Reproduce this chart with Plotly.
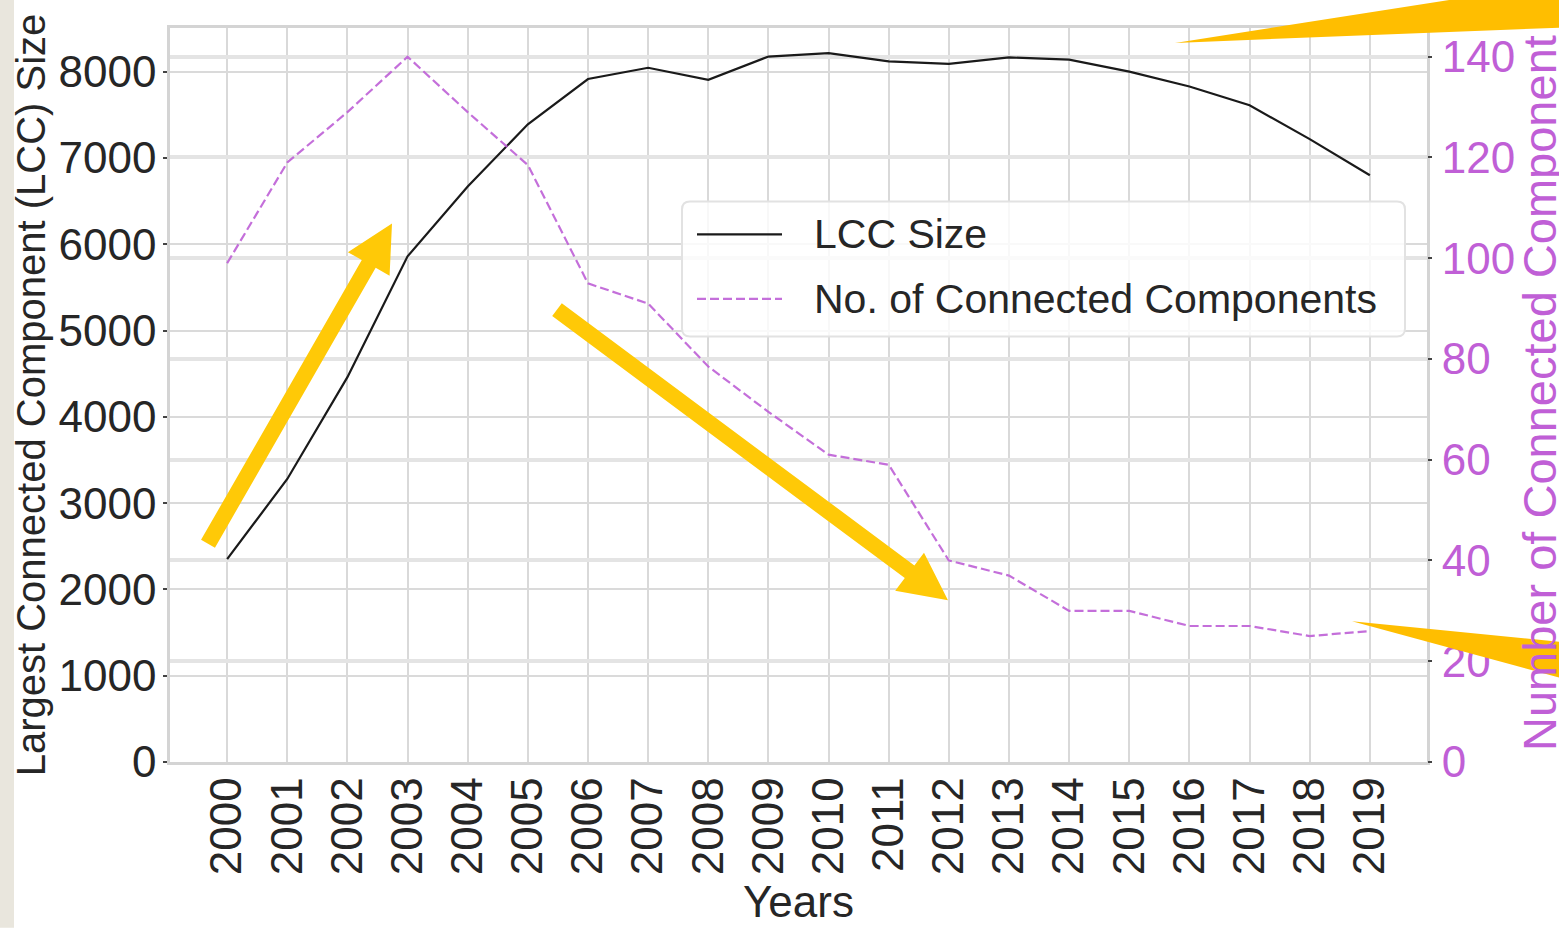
import math
import plotly.graph_objects as go

# ---------------- data ----------------
years = list(range(2000, 2020))
lcc_size = [2350, 3280, 4460, 5860, 6670, 7390, 7915, 8045, 7905, 8175,
            8215, 8120, 8090, 8165, 8140, 8000, 7828, 7610, 7218, 6800]
num_components = [99, 119, 129, 140, 129, 118.5, 95, 91, 78.5, 69.5,
                  61, 59, 40, 37, 30, 30, 27, 27, 25, 26]
x_tick_labels = [str(y) for y in years]
left_ticks = [0, 1000, 2000, 3000, 4000, 5000, 6000, 7000, 8000]
right_ticks = [0, 20, 40, 60, 80, 100, 120, 140]

legend_labels = ["LCC Size", "No. of Connected Components"]

# ---------------- styles ----------------
W_PX, H_PX = 1559, 930
ML, MR, MT, MB = 170, 132, 28, 162
PW, PH = W_PX - ML - MR, H_PX - MT - MB
FONT = "Liberation Sans, Arial, sans-serif"
TXT = "#262626"
PURPLE = "#c05fd6"
DASH_PURPLE = "rgba(190,95,214,0.9)"
YEL = "#FFC907"
YEL2 = "#FFBE00"


def px(x):
    return (x - ML) / PW


def py(y):
    return (MT + PH - y) / PH


def poly(points):
    return "M " + " L ".join(f"{px(x):.5f},{py(y):.5f}" for x, y in points) + " Z"


def arrow(tail, tip, sw, hl, hw):
    dx, dy = tip[0] - tail[0], tip[1] - tail[1]
    ln = math.hypot(dx, dy)
    ux, uy = dx / ln, dy / ln
    nx, ny = -uy, ux
    bx, by = tip[0] - ux * hl, tip[1] - uy * hl
    pts = [
        (tail[0] + nx * sw / 2, tail[1] + ny * sw / 2),
        (bx + nx * sw / 2, by + ny * sw / 2),
        (bx + nx * hw, by + ny * hw),
        tip,
        (bx - nx * hw, by - ny * hw),
        (bx - nx * sw / 2, by - ny * sw / 2),
        (tail[0] - nx * sw / 2, tail[1] - ny * sw / 2),
    ]
    return poly(pts)


def rounded_rect(x0, y0, x1, y1, r):
    rx, ry = r / PW, r / PH
    X0, X1, Y0, Y1 = px(x0), px(x1), py(y0), py(y1)  # Y0 top, Y1 bottom
    return (f"M {X0+rx},{Y0} L {X1-rx},{Y0} Q {X1},{Y0} {X1},{Y0-ry} "
            f"L {X1},{Y1+ry} Q {X1},{Y1} {X1-rx},{Y1} "
            f"L {X0+rx},{Y1} Q {X0},{Y1} {X0},{Y1+ry} "
            f"L {X0},{Y0-ry} Q {X0},{Y0} {X0+rx},{Y0} Z")


fig = go.Figure()
fig.add_trace(go.Scatter(x=years, y=lcc_size, mode="lines", name=legend_labels[0],
                         line=dict(color="#1a1a1a", width=2.2), yaxis="y",
                         showlegend=False))
fig.add_trace(go.Scatter(x=years, y=num_components, mode="lines", name=legend_labels[1],
                         line=dict(color=DASH_PURPLE, width=2.2, dash="9px,4px"),
                         yaxis="y2", showlegend=False))

shapes = []
# left texture strip
shapes.append(dict(type="rect", xref="paper", yref="paper", x0=px(-5), x1=px(14),
                   y0=py(935), y1=py(-5), fillcolor="#e9e6dd", line=dict(width=0),
                   layer="below"))
# legend box
shapes.append(dict(type="path", xref="paper", yref="paper",
                   path=rounded_rect(682, 203, 1405, 339, 8),
                   fillcolor="rgba(255,255,255,0.82)",
                   line=dict(color="#e2e2e2", width=2), layer="above"))
shapes.append(dict(type="line", xref="paper", yref="paper", x0=px(697), x1=px(782),
                   y0=py(236), y1=py(236), line=dict(color="#1a1a1a", width=2.2),
                   layer="above"))
shapes.append(dict(type="line", xref="paper", yref="paper", x0=px(697), x1=px(782),
                   y0=py(301), y1=py(301),
                   line=dict(color=DASH_PURPLE, width=2.2, dash="9px,4px"),
                   layer="above"))
# yellow arrows
shapes.append(dict(type="path", xref="paper", yref="paper",
                   path=arrow((208, 548), (392, 225), 16, 47, 24),
                   fillcolor=YEL, line=dict(width=0), layer="above"))
shapes.append(dict(type="path", xref="paper", yref="paper",
                   path=arrow((557, 312), (948, 605), 16, 48, 24),
                   fillcolor=YEL, line=dict(width=0), layer="above"))
shapes.append(dict(type="path", xref="paper", yref="paper",
                   path=poly([(1175, 43), (1600, -24), (1600, 26)]),
                   fillcolor=YEL2, line=dict(width=0), layer="above"))
shapes.append(dict(type="path", xref="paper", yref="paper",
                   path=poly([(1352, 626), (1600, 651), (1600, 694)]),
                   fillcolor=YEL2, line=dict(width=0), layer="above"))

annotations = [
    dict(text=legend_labels[0], xref="paper", yref="paper", x=px(812), y=py(236),
         xanchor="left", yanchor="middle", showarrow=False,
         font=dict(family=FONT, size=41, color=TXT)),
    dict(text=legend_labels[1], xref="paper", yref="paper", x=px(812), y=py(301),
         xanchor="left", yanchor="middle", showarrow=False,
         font=dict(family=FONT, size=41, color=TXT)),
    dict(text="Number of Connected Component", xref="paper", yref="paper",
         x=px(1539), y=py(396), xanchor="center", yanchor="middle",
         textangle=-90, showarrow=False,
         font=dict(family=FONT, size=47, color=PURPLE)),
]

fig.update_layout(
    width=W_PX, height=H_PX,
    margin=dict(l=ML, r=MR, t=MT, b=MB, pad=0),
    paper_bgcolor="white", plot_bgcolor="white",
    font=dict(family=FONT, color=TXT),
    showlegend=False,
    shapes=shapes, annotations=annotations,
    xaxis=dict(
        range=[1999.05, 2019.95], tickmode="array", tickvals=years,
        ticktext=x_tick_labels, tickangle=-90, ticks="",
        tickfont=dict(size=44, color=TXT), ticklabelstandoff=-5,
        showgrid=True, gridcolor="#d9d9d9", gridwidth=2,
        showline=True, linecolor="#d4d4d4", linewidth=2.5, mirror=True,
        zeroline=False,
        title=dict(text="Years", font=dict(size=44, color=TXT), standoff=12),
    ),
    yaxis=dict(
        range=[0, 8506], tickmode="array", tickvals=left_ticks,
        ticks="outside", ticklen=4, tickwidth=2, tickcolor="#444",
        tickfont=dict(size=44, color=TXT), ticklabelstandoff=-2,
        showgrid=True, gridcolor="#dadada", gridwidth=2,
        showline=True, linecolor="#d4d4d4", linewidth=2.5, mirror=True,
        zeroline=False,
        title=dict(text="Largest Connected Component (LCC) Size",
                   font=dict(size=40, color=TXT), standoff=1),
    ),
    yaxis2=dict(
        range=[0, 145.7], tickmode="array", tickvals=right_ticks,
        overlaying="y", side="right",
        ticks="outside", ticklen=4, tickwidth=2, tickcolor="#444",
        tickfont=dict(size=44, color=PURPLE), ticklabelstandoff=1,
        showgrid=True, gridcolor="#e4e4e4", gridwidth=3.5,
        showline=False, zeroline=False,
    ),
)

fig.write_html("out.html", config={"displayModeBar": False},
               post_script="document.body.style.margin='0';document.body.style.overflow='hidden';")
